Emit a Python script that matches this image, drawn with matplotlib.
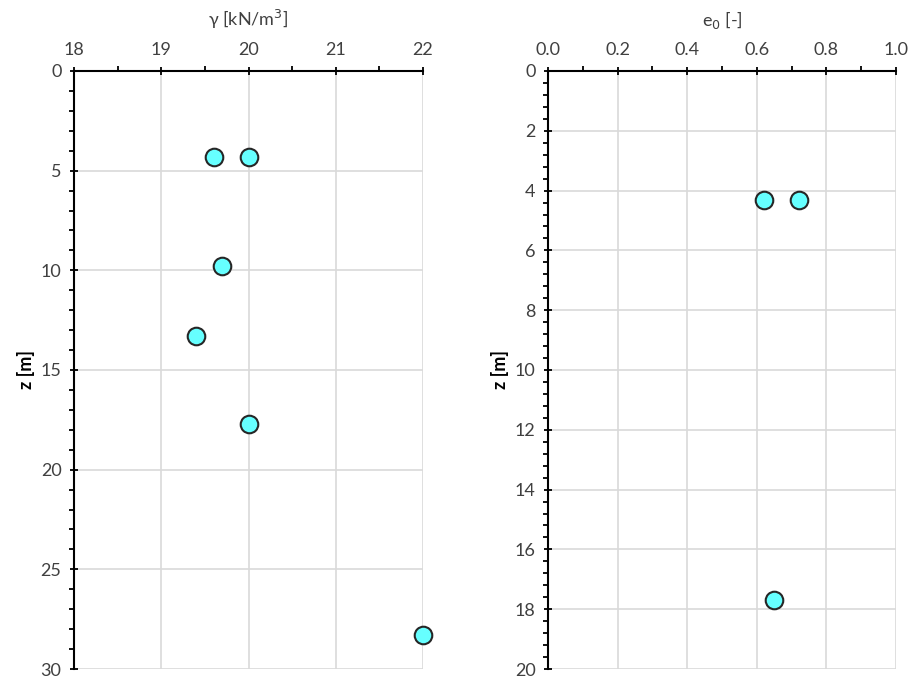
import matplotlib
matplotlib.use("Agg")
import matplotlib.pyplot as plt
from matplotlib.ticker import MultipleLocator

plt.rcParams['font.family'] = ['Lato', 'DejaVu Sans']

gamma = [19.6, 20.0, 19.7, 19.4, 20.0, 22.0]
z_gamma = [4.3, 4.3, 9.8, 13.3, 17.7, 28.3]
e0 = [0.62, 0.72, 0.65]
z_e0 = [4.3, 4.3, 17.7]

txt = '#404040'
fig = plt.figure(figsize=(9.14, 6.77), dpi=100)
ax1 = fig.add_axes([74/914, 1-669/677, 349/914, 598/677])
ax2 = fig.add_axes([548/914, 1-669/677, 348/914, 598/677])

def style(ax, xlim, ylim, xmaj, xmin, ymaj, ymin, xlabel, xfmt):
    ax.set_xlim(*xlim)
    ax.set_ylim(ylim[1], ylim[0])
    ax.xaxis.tick_top()
    ax.xaxis.set_label_position('top')
    ax.xaxis.set_major_locator(MultipleLocator(xmaj))
    ax.xaxis.set_minor_locator(MultipleLocator(xmin))
    ax.yaxis.set_major_locator(MultipleLocator(ymaj))
    ax.yaxis.set_minor_locator(MultipleLocator(ymin))
    if xfmt:
        ax.xaxis.set_major_formatter(plt.FormatStrFormatter(xfmt))
    ax.grid(True, which='major', color='#d9d9d9', lw=1.2)
    ax.set_axisbelow(True)
    for s in ['right', 'bottom']:
        ax.spines[s].set_visible(False)
    for s in ['left', 'top']:
        ax.spines[s].set_linewidth(1.5)
        ax.spines[s].set_color('black')
    ax.tick_params(which='major', direction='inout', length=6, width=1.3,
                   labelsize=13, labelcolor=txt, pad=6)
    ax.tick_params(which='minor', direction='out', length=3.5, width=1.3)
    ax.set_xlabel(xlabel, fontsize=13, color=txt, labelpad=12)
    ax.set_ylabel('z [m]', fontsize=13, color='black', fontweight='bold', labelpad=4)

style(ax1, (18, 22), (0, 30), 1, 0.5, 5, 1, r'γ [kN/m$^3$]', None)
style(ax2, (0, 1.0), (0, 20), 0.2, 0.1, 2, 0.4, r'e$_0$ [-]', '%.1f')

mk = dict(marker='o', s=160, facecolor='#66FFFF', edgecolor='#262626', linewidth=1.5, zorder=5, clip_on=False)
ax1.scatter(gamma, z_gamma, **mk)
ax2.scatter(e0, z_e0, **mk)

fig.savefig('out.png', dpi=100)
